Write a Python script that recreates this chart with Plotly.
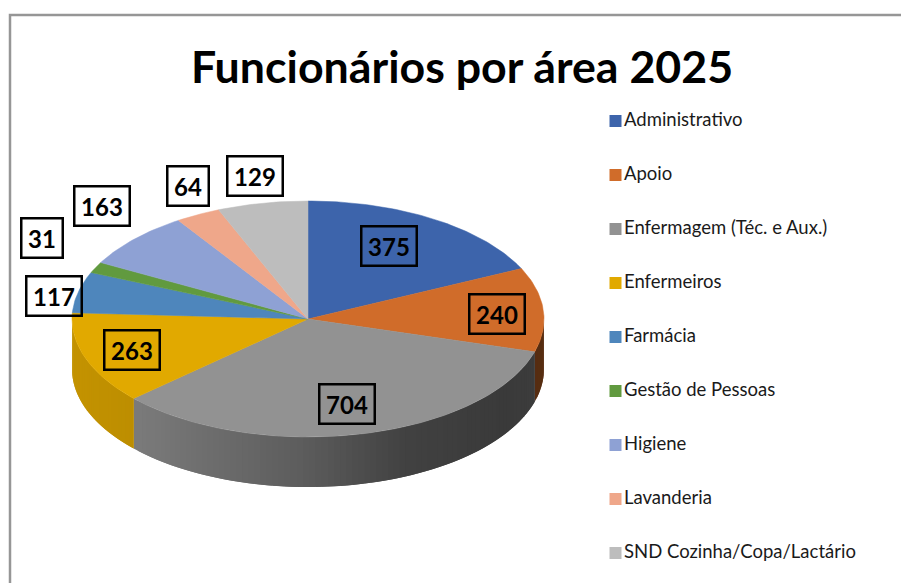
import numpy as np
import plotly.graph_objects as go

# ---- data ----
categories = ["Administrativo", "Apoio", "Enfermagem (Téc. e Aux.)", "Enfermeiros", "Farmácia",
              "Gestão de Pessoas", "Higiene", "Lavanderia", "SND Cozinha/Copa/Lactário"]
values = [375, 240, 704, 263, 117, 31, 163, 64, 129]
title_text = "Funcionários por área 2025"

# ---- styles and layout (pixel space of the 901x583 page) ----
colors = ["#3D64AB", "#D06C2A", "#929292", "#E1A900", "#4E86BC", "#619A3F", "#8EA1D4", "#EFA78A", "#BDBDBD"]
W, H = 901, 583
CX, CY, RX, RY, DEPTH = 308, 319, 236, 118, 50
label_centers = [(388.5, 246), (496.5, 314), (346.5, 403.5), (132, 349.5), (53.5, 295.5),
                 (41.5, 237.5), (101.5, 205.5), (187.5, 185.5), (254.5, 175.5)]
LEG_X, LEG_Y0, LEG_DY = 615.5, 121, 54
shade_x = [72, 135, 300, 400, 500, 544]
shade_f = [0.87, 0.84, 0.63, 0.45, 0.40, 0.42]


def px(theta):
    return CX + RX * np.sin(theta)


def py(theta):
    return CY - RY * np.cos(theta)


def shade(hex_color, f):
    r, g, b = (int(hex_color[i:i + 2], 16) for i in (1, 3, 5))
    return f"rgb({int(r * f)},{int(g * f)},{int(b * f)})"


fracs = np.array(values, dtype=float) / sum(values)
edges = np.concatenate([[0], np.cumsum(fracs)]) * 2 * np.pi

fig = go.Figure()

# side wall: overlapping strips along the front half of the rim, shaded dark (right) to light (left)
step = np.radians(1.5)
for i, col in enumerate(colors):
    a0, a1 = max(edges[i], np.pi / 2), min(edges[i + 1], 3 * np.pi / 2)
    if a1 <= a0:
        continue
    n = max(1, int(np.ceil((a1 - a0) / step)))
    ts = np.linspace(a0, a1, n + 1)
    for j, (t0, t1) in enumerate(zip(ts[:-1], ts[1:])):
        start = ts[max(j - 1, 0)]  # reach back under the previous strip edge so no seam shows
        arc = np.linspace(t1, start, 4)
        arc_back = arc[::-1]
        xs = np.concatenate([px(arc), px(arc_back)])
        ys = np.concatenate([py(arc), py(arc_back) + DEPTH])
        f = float(np.interp(px((t0 + t1) / 2), shade_x, shade_f))
        fig.add_trace(go.Scatter(x=xs, y=ys, mode="lines", fill="toself", fillcolor=shade(col, f),
                                 line=dict(width=0), hoverinfo="skip", showlegend=False))

# top face: one wedge per value
for i, (cat, val, col) in enumerate(zip(categories, values, colors)):
    ts = np.linspace(edges[i], edges[i + 1], max(3, int((edges[i + 1] - edges[i]) / np.radians(1)) + 2))
    xs = np.concatenate([[CX], px(ts), [CX]])
    ys = np.concatenate([[CY], py(ts), [CY]])
    fig.add_trace(go.Scatter(x=xs, y=ys, mode="lines", fill="toself", fillcolor=col,
                             line=dict(color=col, width=0.5), name=cat, showlegend=False,
                             hoveron="fills", text=f"{cat}: {val}", hoverinfo="text"))

# legend column
fig.add_trace(go.Scatter(
    x=[LEG_X] * len(categories),
    y=[LEG_Y0 + LEG_DY * i for i in range(len(categories))],
    mode="markers+text", text=categories, textposition="middle right",
    textfont=dict(family="Lato, Carlito, sans-serif", size=18.5, color="#1a1a1a"),
    marker=dict(symbol="square", size=12, color=colors, line=dict(width=0)),
    hoverinfo="skip", showlegend=False))

annotations = [dict(x=x, y=y, xref="x", yref="y", text=f"<b>{v}</b>", showarrow=False,
                    font=dict(family="Lato, Carlito, sans-serif", size=24, color="black"),
                    width=(53 if v >= 100 else 39), height=37, borderwidth=2.5, borderpad=0,
                    bordercolor="black", align="center", valign="middle")
               for (x, y), v in zip(label_centers, values)]

fig.update_layout(
    width=W, height=H, margin=dict(l=0, r=0, t=0, b=0),
    paper_bgcolor="white", plot_bgcolor="white", showlegend=False,
    title=dict(text=f"<b>{title_text}</b>", x=462 / W, y=1 - 67 / H, xanchor="center", yanchor="middle",
               font=dict(family="Lato, Carlito, sans-serif", size=44.7, color="black")),
    xaxis=dict(range=[0, W], visible=False, fixedrange=True),
    yaxis=dict(range=[H, 0], visible=False, fixedrange=True),
    annotations=annotations,
    shapes=[dict(type="rect", xref="x", yref="y", x0=10, y0=15, x1=W + 10, y1=H + 10,
                 line=dict(color="#969696", width=2.5), fillcolor="rgba(0,0,0,0)", layer="below")],
)
fig.write_html("out.html", post_script="document.body.style.margin='0';", config={"displayModeBar": False})
